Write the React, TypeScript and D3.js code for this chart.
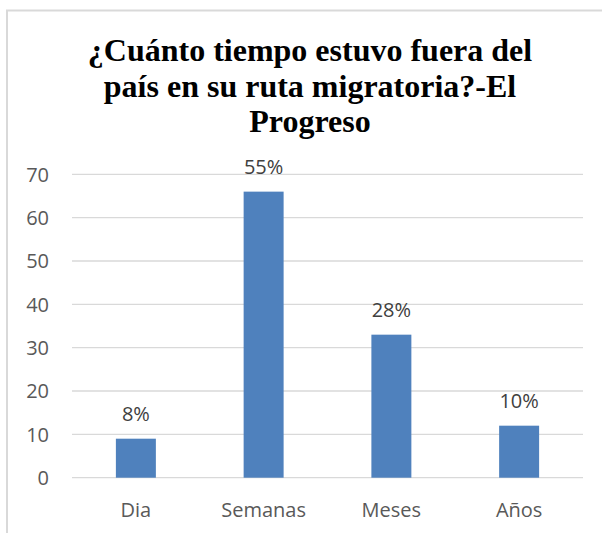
import React, { useEffect, useRef } from 'react';
import * as d3 from 'd3';

const categories = ['Dia', 'Semanas', 'Meses', 'Años'];
const values = [9, 66, 33, 12];
const percentLabels = ['8%', '55%', '28%', '10%'];
const yTicks = [0, 10, 20, 30, 40, 50, 60, 70];
const titleLines = ['¿Cuánto tiempo estuvo fuera del', 'país en su ruta migratoria?-El', 'Progreso'];

const W = 602;
const H = 533;

const App = () => {
    const ref = useRef<SVGSVGElement>(null);

    useEffect(() => {
        const svg = d3.select(ref.current);
        svg.selectAll('*').remove();

        // chart frame (only top and left edges visible)
        svg.append('path')
            .attr('d', `M7,${H} V10.5 H${W}`)
            .attr('fill', 'none')
            .attr('stroke', '#d9d9d9')
            .attr('stroke-width', 2);

        // title
        svg.append('g')
            .selectAll('text')
            .data(titleLines)
            .enter()
            .append('text')
            .attr('x', 310)
            .attr('y', (d, i) => 61 + i * 35.5)
            .attr('text-anchor', 'middle')
            .style('font-family', "'Times New Roman', Times, 'Liberation Serif', 'DejaVu Serif', serif")
            .style('font-weight', 'bold')
            .style('font-size', '32px')
            .attr('fill', '#000')
            .text(d => d);

        const x = d3.scaleBand<string>()
            .domain(categories)
            .range([72, 583])
            .paddingInner(0.687)
            .paddingOuter(0.3435);

        const y = d3.scaleLinear()
            .domain([0, 70])
            .range([477.7, 174.3]);

        const font = "'Open Sans', sans-serif";

        // gridlines
        svg.append('g')
            .selectAll('line')
            .data(yTicks)
            .enter()
            .append('line')
            .attr('x1', 72)
            .attr('x2', 583)
            .attr('y1', d => y(d))
            .attr('y2', d => y(d))
            .attr('stroke', '#d9d9d9')
            .attr('stroke-width', 1.3);

        // y tick labels
        svg.append('g')
            .selectAll('text')
            .data(yTicks)
            .enter()
            .append('text')
            .attr('x', 49)
            .attr('y', d => y(d))
            .attr('dy', '0.36em')
            .attr('text-anchor', 'end')
            .style('font-family', font)
            .style('font-size', '20px')
            .attr('fill', '#595959')
            .text(d => d);

        // bars
        svg.append('g')
            .selectAll('rect')
            .data(values)
            .enter()
            .append('rect')
            .attr('x', (d, i) => x(categories[i]) as number)
            .attr('y', d => y(d))
            .attr('width', x.bandwidth())
            .attr('height', d => y(0) - y(d))
            .attr('fill', '#4f81bd');

        // value labels
        svg.append('g')
            .selectAll('text')
            .data(values)
            .enter()
            .append('text')
            .attr('x', (d, i) => (x(categories[i]) as number) + x.bandwidth() / 2)
            .attr('y', d => y(d) - 18)
            .attr('text-anchor', 'middle')
            .style('font-family', font)
            .style('font-size', '20px')
            .attr('fill', '#404040')
            .text((d, i) => percentLabels[i]);

        // category labels
        svg.append('g')
            .selectAll('text')
            .data(categories)
            .enter()
            .append('text')
            .attr('x', d => (x(d) as number) + x.bandwidth() / 2)
            .attr('y', 517)
            .attr('text-anchor', 'middle')
            .style('font-family', font)
            .style('font-size', '20px')
            .attr('fill', '#595959')
            .text(d => d);
    }, []);

    return (
        <svg
            ref={ref}
            width={W}
            height={H}
            style={{ position: 'absolute', left: 0, top: 0, background: '#fff' }}
        />
    );
};

export default App;
